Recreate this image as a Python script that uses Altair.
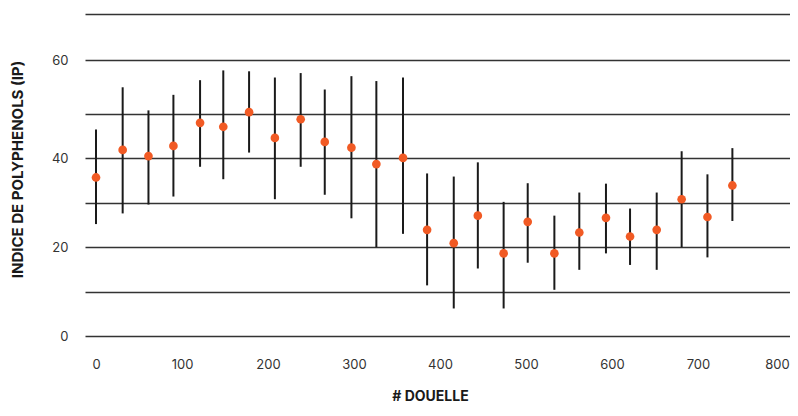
import altair as alt
import pandas as pd

douelle = [0, 31, 61, 90, 121, 148, 178, 208, 238, 266, 297, 326, 357, 385,
           416, 444, 474, 502, 533, 562, 593, 621, 652, 681, 711, 740]
ip_mean = [35.7, 41.9, 40.5, 42.8, 48.0, 47.1, 50.4, 44.6, 48.8, 43.7, 42.4, 38.7, 40.1,
           23.9, 20.9, 27.1, 18.6, 25.7, 18.6, 23.3, 26.6, 22.4, 23.9, 30.8, 26.8, 33.9]
ip_low = [25.2, 27.6, 29.6, 31.4, 38.1, 35.3, 41.3, 30.8, 38.1, 31.8, 26.5, 20.0, 23.0,
          11.4, 6.2, 15.2, 6.2, 16.5, 10.4, 14.9, 18.6, 16.0, 14.9, 20.0, 17.7, 25.9]
ip_high = [46.5, 56.0, 50.8, 54.3, 57.6, 59.8, 59.6, 58.2, 59.2, 55.5, 58.5, 57.4, 58.2,
           36.6, 35.9, 39.1, 30.2, 34.4, 27.1, 32.3, 34.3, 28.7, 32.3, 41.6, 36.4, 42.3]

y_grid = [0, 10, 20, 30, 40, 50, 62.1, 72.5]
x_ticks = [0, 100, 200, 300, 400, 500, 600, 700, 800]

df = pd.DataFrame({"douelle": douelle, "ip": ip_mean, "low": ip_low, "high": ip_high})

FONT = "Inter"

x_enc = alt.X(
    "douelle:Q",
    scale=alt.Scale(domain=[-12.8, 807], nice=False, zero=False),
    axis=alt.Axis(
        title="# DOUELLE", values=x_ticks, grid=False, ticks=False, domain=False,
        labelPadding=22, labelFontSize=13, labelColor="#333333", labelFont=FONT,
        labelOffset={"condition": {"test": "datum.value == 800", "value": -7}, "value": 0},
        titleFont=FONT, titleFontSize=14, titleFontWeight="bold", titleColor="#1a1a1a",
        titleBaseline="bottom", titleY=67, titleX=345,
    ),
)

y_scale = alt.Scale(domain=[0, 72.5], nice=False, zero=True)
y_axis = alt.Axis(
    title="INDICE DE POLYPHENOLS (IP)", values=y_grid,
    labelExpr="datum.value == 62.1 ? '60' : ((datum.value == 0 || datum.value == 20 || datum.value == 40) ? datum.label : '')",
    grid=True, gridColor="#333333", gridWidth=1.4, ticks=False, domain=False,
    labelPadding=17, labelFontSize=13, labelColor="#333333", labelFont=FONT,
    titleFont=FONT, titleFontSize=15, titleFontWeight="bold", titleColor="#1a1a1a",
    titleX=-60, titleY=155, titleBaseline="bottom", titleAlign="center",
)

bars = alt.Chart(df).mark_rule(color="#1a1a1a", strokeWidth=2).encode(
    x=x_enc,
    y=alt.Y("low:Q", scale=y_scale, axis=y_axis),
    y2="high:Q",
)

points = alt.Chart(df).mark_circle(color="#F15A24", size=75, opacity=1).encode(
    x=alt.X("douelle:Q"),
    y=alt.Y("ip:Q"),
)

chart = alt.layer(bars, points).properties(
    width=705, height=322,
    autosize=alt.AutoSizeParams(type="none"),
    padding={"left": 77, "top": 6, "right": 0, "bottom": 68},
).configure_view(stroke=None)

chart.save("out.html", embed_options={"renderer": "svg", "actions": False})
